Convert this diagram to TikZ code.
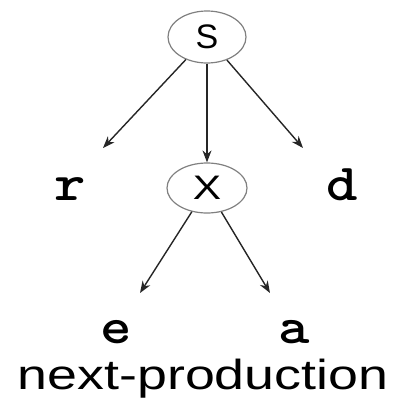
\documentclass[tikz,border=0pt]{standalone}
\usepackage{fontspec}
\usepackage{graphicx}
\usetikzlibrary{shapes.geometric,arrows.meta}
\newfontfamily\labsans{Liberation Sans}
\begin{document}
\begin{tikzpicture}[x=1pt,y=-1pt,
  circ/.style={ellipse,draw=black!50,line width=1.2pt,inner sep=0pt,minimum width=78pt,minimum height=52pt,font=\labsans\fontsize{34}{38}\selectfont},
  leaf/.style={anchor=base,inner sep=0pt,font=\ttfamily\bfseries\fontsize{52}{56}\selectfont},
  arr/.style={draw=black!85,line width=1.4pt,-{Stealth[length=12pt,width=9pt]}},
  captext/.style={anchor=base,inner sep=0pt,font=\labsans\fontsize{42}{46}\selectfont}]
\useasboundingbox (0,0) rectangle (400,407);
\node[circ] (s) at (207,37) {\raisebox{-1pt}{S}};
\node[circ,minimum height=50pt,minimum width=80pt] (x) at (207,188) {\scalebox{1.25}[1]{X}};
\node[leaf] (r) at (70,200) {\scalebox{1.15}[1]{r}};
\node[leaf] (d) at (342,200) {\scalebox{1.15}[1]{d}};
\node[leaf] (e) at (116,343) {\scalebox{1.15}[1]{e}};
\node[leaf] (a) at (294,343) {\scalebox{1.15}[1]{a}};
\node[captext] (np) at (203,389) {\scalebox{1.28}[1]{next-production}};
\coordinate (rtip) at (103,148);
\coordinate (dtip) at (303,148);
\coordinate (etip) at (140,293);
\coordinate (atip) at (270,293);
\draw[arr] (s) -- (rtip);
\draw[arr] (s) -- (x);
\draw[arr] (s) -- (dtip);
\draw[arr] (x) -- (etip);
\draw[arr] (x) -- (atip);
\end{tikzpicture}
\end{document}
